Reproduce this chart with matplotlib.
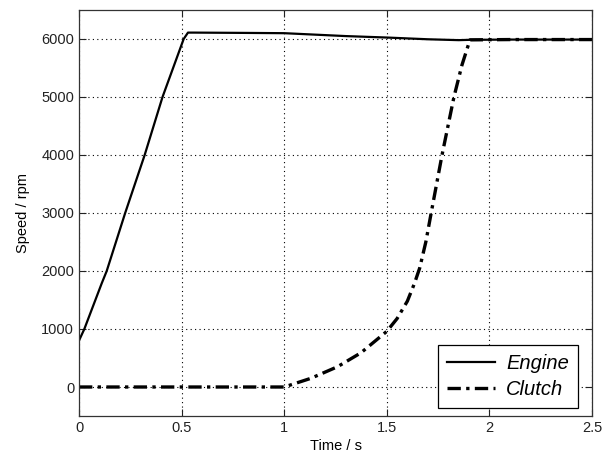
import matplotlib
matplotlib.use("Agg")
import matplotlib.pyplot as plt

plt.rcParams['font.family'] = ['Liberation Sans', 'DejaVu Sans']

# engine speed trace (s, rpm)
engine_t = [0.0, 0.026, 0.111, 0.135, 0.225, 0.32, 0.407, 0.51, 0.531, 0.56,
            0.8, 1.0, 1.15, 1.3, 1.5, 1.7, 1.85, 1.9, 2.1, 2.5]
engine_rpm = [800, 1000, 1790, 2000, 3000, 4000, 5000, 6000, 6110, 6110,
              6105, 6100, 6075, 6050, 6025, 5995, 5980, 5985, 5990, 5990]

# clutch speed trace (s, rpm)
clutch_t = [0.0, 1.0, 1.13, 1.26, 1.374, 1.5, 1.55, 1.6, 1.635, 1.66, 1.69,
            1.716, 1.769, 1.827, 1.866, 1.905, 2.1, 2.5]
clutch_rpm = [0, 0, 150, 350, 590, 960, 1180, 1480, 1790, 2050, 2500,
              3000, 4000, 5000, 5550, 5985, 5990, 5990]

xticks = [0, 0.5, 1, 1.5, 2, 2.5]
xtick_labels = ['0', '0.5', '1', '1.5', '2', '2.5']
yticks = [0, 1000, 2000, 3000, 4000, 5000, 6000]

fig = plt.figure(figsize=(6.11, 4.58), dpi=100)
ax = fig.add_axes([0.1293, 0.0917, 0.8397, 0.8865])

ax.plot(engine_t, engine_rpm, color='black', lw=1.6, label='Engine')
ax.plot(clutch_t, clutch_rpm, color='black', lw=2.4,
        linestyle=(0, (4, 1.6, 1, 1.6)), label='Clutch')

ax.set_xlim(0, 2.5)
ax.set_ylim(-500, 6500)
ax.set_xticks(xticks)
ax.set_xticklabels(xtick_labels)
ax.set_yticks(yticks)

ax.grid(True, linestyle=(0, (1, 3)), color='black', lw=0.8)
ax.tick_params(direction='in', top=True, right=True, length=5, width=0.8,
               labelsize=10.5, colors='#222222')
for s in ax.spines.values():
    s.set_color('#333333')
    s.set_linewidth(0.9)

ax.set_xlabel('Time / s', fontsize=10.5, labelpad=3)
ax.set_ylabel('Speed / rpm', fontsize=10.5, labelpad=8)

leg = ax.legend(loc='lower right', bbox_to_anchor=(0.9727, 0.0197),
                fontsize=14.5, handlelength=2.4, fancybox=False,
                framealpha=1, edgecolor='black', borderaxespad=0,
                labelspacing=0.35, handletextpad=0.55, borderpad=0.45)
for t in leg.get_texts():
    t.set_style('italic')
leg.get_frame().set_linewidth(0.9)

fig.savefig('out.png', dpi=100)
